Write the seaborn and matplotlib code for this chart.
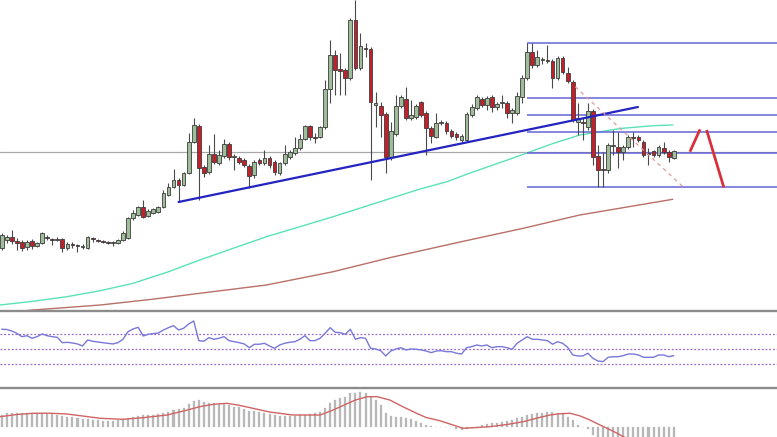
import numpy as np
import pandas as pd
import matplotlib
matplotlib.use("Agg")
import matplotlib.pyplot as plt
from matplotlib.lines import Line2D
import seaborn as sns

# ---------------- data ----------------
opens = [62,70,73,69,68,63,69,64,67,73,71,70,71,62,66,65,63,62,72,70,
         69,68,67,67,70,72,92,95,103,94,97,98,103,115,123,130,125,137,168,184,
         143,138,156,147,154,166,153,152,150,144,135,150,147,152,148,137,147,153,157,162,
         171,184,173,173,183,221,255,241,240,232,290,242,262,261,205,204,196,153,176,204,
         211,192,193,208,197,182,173,187,187,179,176,170,170,195,202,211,205,213,203,207,
         207,197,197,213,232,258,245,250,250,249,232,252,237,228,188,188,183,199,154,141,
         140,164,163,158,163,173,173,168,157,159,155,162,158,152]
highs = [77,75,80,72,70,70,71,68,78,75,72,73,72,68,68,66,66,74,73,71,
         70,69,69,71,79,93,100,104,110,101,102,104,120,127,141,132,138,177,192,186,
         145,165,176,160,171,168,156,154,152,146,150,152,160,154,150,148,165,160,173,176,
         185,185,177,184,230,270,260,257,242,292,310,277,267,263,218,208,198,188,215,215,
         223,210,206,209,199,184,197,190,189,181,178,176,198,206,215,213,214,215,208,215,
         209,202,218,235,267,267,260,253,265,251,254,254,243,230,207,192,207,201,165,158,
         167,180,178,165,175,178,175,170,162,160,165,168,160,160]
lows = [60,67,66,60,59,60,61,63,66,70,65,69,58,60,62,58,61,61,68,68,
        67,66,64,66,69,71,90,94,92,93,96,97,102,114,122,108,124,136,167,110,
        133,136,146,145,152,150,140,146,143,122,132,145,145,142,135,135,145,151,155,160,
        170,170,167,172,181,207,215,215,215,230,240,240,253,130,183,173,137,150,174,202,
        190,190,191,193,155,167,172,185,176,172,170,168,168,193,200,203,200,198,200,202,
        192,187,195,207,230,242,243,246,247,222,230,236,227,188,175,170,180,145,123,123,
        137,155,142,150,161,163,168,153,145,153,153,156,148,151]
closes = [75,73,69,67,62,68,64,67,77,72,70,71,62,66,65,64,64,73,71,69,
          68,67,68,70,77,92,97,103,93,99,101,103,117,123,130,125,137,168,185,142,
          137,156,148,155,166,153,154,148,145,134,148,147,152,145,138,147,156,158,162,171,
          184,173,172,183,221,255,240,239,232,290,242,264,261,208,207,195,153,179,204,213,
          192,195,204,195,182,174,187,188,179,174,173,174,196,203,213,205,212,203,206,208,
          197,200,214,232,258,245,253,251,249,232,252,238,229,190,192,187,199,153,140,140,
          165,165,158,163,173,172,170,155,156,155,163,158,153,159]

ma_fast_idx = [-0.34, 6.2, 12.9, 19.5, 26.0, 32.7, 39.2, 45.8, 52.4, 59.0, 65.6, 74.9,
               82.8, 88.1, 92.7, 101.2, 109.1, 114.4, 122.4, 128.9, 132.8]
ma_fast_val = [5, 8.7, 13.3, 19.3, 26.7, 37.7, 50, 61.7, 73.3, 83.3, 93.3, 108.3,
               121, 128.3, 137, 152, 166.5, 175, 181.5, 184.3, 185]
ma_slow_idx = [-0.34, 6.2, 19.5, 29.4, 39.2, 52.4, 65.6, 76.8, 90.7, 103.2, 114.4, 132.8]
ma_slow_val = [-3, 0, 5, 10.5, 16.7, 25, 38.3, 52.3, 68, 81.7, 95, 110.7]

rsi = [76.7,76.4,74.4,71.3,66.8,68.1,64.7,66.8,70.4,68.1,66.8,66.0,58.8,59.3,58.4,57.1,54.4,62.4,60.7,59.7,
       58.8,58.0,57.1,58.8,63.3,73.5,77.1,79.3,67.7,70.0,70.8,71.7,75.7,78.8,81.5,75.7,78.0,83.7,87.7,61.5,
       60.7,65.5,63.3,64.7,66.8,61.5,60.1,58.8,57.1,52.1,56.7,56.7,58.0,54.4,51.3,55.7,58.0,59.3,60.1,63.3,
       68.1,61.5,61.5,64.7,71.3,78.8,72.7,72.1,70.0,76.7,63.3,65.5,64.7,51.3,50.4,48.1,41.1,47.7,50.4,52.1,
       49.1,50.4,50.0,49.1,47.7,45.5,47.7,48.1,46.8,46.8,44.7,43.7,52.1,53.5,55.7,54.4,55.7,52.1,53.5,53.5,
       52.1,50.0,58.0,62.4,66.8,63.3,63.3,62.4,61.5,56.7,60.1,58.0,52.7,42.4,41.1,41.1,44.7,38.0,34.4,33.5,
       39.3,40.1,40.1,41.5,43.7,43.7,42.4,39.3,39.3,39.3,42.4,42.4,40.1,41.5]
rsi_levels = [70, 50, 30]

macd_hist = [12,13.7,14.3,14.3,13.7,13.7,13.7,13.7,14.3,13,12.7,12,11,10.3,9.7,8.7,7.7,7.7,7,7,
             6.3,6.3,6.3,7,7.7,8.7,10.3,11,11.7,11.7,12,12.7,13.7,15.3,17,17.7,18.7,23,26.3,27,
             25.3,24.3,23.7,23,23,22,20.3,19.7,17.7,16,16,15,13.7,12.7,12,11,11,11,11,12,
             12,13,13.7,15.3,18.7,24.3,27,28.7,29.7,34.3,34.3,34.7,34.3,30.3,27,22,14.3,11,10.3,9.7,
             8.7,7.7,6.3,4.3,2,1,0.5,0.3,0.2,-0.3,-2,-3,-2,-1,-0.5,2,3,3.7,4.3,5.3,
             6.3,7,8.7,10.3,12,13,13.7,14.3,15.3,15.3,13.7,13.7,10.3,7,2,0,-1.5,-8,-12,-14,
             -16,-17,-18,-18,-18,-17,-17,-16,-16,-15,-15,-14,-14,-13]
signal_idx = [-0.34, 3.0, 6.2, 9.5, 12.9, 16.0, 19.5, 24.0, 28.0, 32.7, 36.0, 39.2, 42.0, 44.6, 47.0,
              49.7, 53.0, 57.6, 63.0, 65.6, 68.0, 70.0, 72.3, 74.3, 76.8, 79.5, 82.1, 84.0, 86.7,
              91.3, 94.0, 96.6, 100.0, 103.2, 106.0, 108.5, 110.5, 112.5, 114.5, 116.4, 118.0,
              119.8, 121.5, 123.0, 126.0, 128.3, 132.8]
signal_val = [10.3, 12.5, 13.7, 13.8, 13.0, 11.0, 8.7, 7.7, 9.3, 12.0, 16.0, 20.3, 22.8, 23.7, 21.7,
              18.7, 15.0, 12.0, 12.0, 17.0, 22.5, 27.0, 30.3, 30.3, 27.0, 20.0, 13.7, 9.5, 6.3,
              -1.3, -0.5, 0.3, 2.5, 5.3, 9.0, 12.0, 13.3, 13.7, 11.0, 7.0, 3.0,
              -1.3, -5.5, -9.7, -15.0, -20.0, -28.0]

fib_levels = [267.3, 211.7, 195.0, 178.3, 156.7, 122.7]
fib_start = 104.0
last_price = 158
trend_idx = [35.0, 125.9]
trend_val = [108, 203]
dash_idx = [113.5, 134.8]
dash_val = [223.3, 123.3]
arrow_up_idx = [136.2, 138.2]
arrow_up_val = [158.3, 180.7]
arrow_dn_idx = [139.5, 142.9]
arrow_dn_val = [180.0, 122.7]

# ---------------- figure ----------------
sns.set_style("white")
W, H = 777, 437
fig = plt.figure(figsize=(W / 100, H / 100), dpi=100)
fig.patch.set_facecolor("white")

def px_axes(top, bottom):
    return fig.add_axes([0, (H - bottom) / H, 1, (bottom - top) / H])

ax = px_axes(0, 310)
ax_rsi = px_axes(312, 387)
ax_macd = px_axes(389, 437)

XL = (-0.336, 153.43)
for a in (ax, ax_rsi, ax_macd):
    a.set_xlim(*XL)
    a.set_facecolor("white")
    for s in a.spines.values():
        s.set_visible(False)

ax.set_ylim(0, 310)
ax_rsi.set_ylim(-0.3, 99.7)
ax_macd.set_ylim(-10, 38)

df = pd.DataFrame({"o": opens, "h": highs, "l": lows, "c": closes})
df["i"] = np.arange(len(df))
up = df["c"] >= df["o"]

# last price line
ax.axhline(last_price, color="#a8a8a8", lw=0.9, zorder=1)

# moving averages
sns.lineplot(x=ma_fast_idx, y=ma_fast_val, ax=ax, color="#5ae2b8", lw=1.0, sort=False, estimator=None, zorder=2)
sns.lineplot(x=ma_slow_idx, y=ma_slow_val, ax=ax, color="#b87068", lw=1.0, sort=False, estimator=None, zorder=2)

# fib lines
for lv in fib_levels:
    ax.hlines(lv, fib_start, XL[1], color="#6464d6", lw=1.1, zorder=2)

# candles
ax.vlines(df["i"], df["l"], df["h"], color="#4a4a4a", lw=0.8, zorder=3)
body_bottom = np.minimum(df["o"], df["c"])
body_h = np.maximum(np.abs(df["c"] - df["o"]), 0.9)
ax.bar(df["i"][up], body_h[up], bottom=body_bottom[up], width=0.74,
       color="#9fbd98", edgecolor="#3c3c3c", linewidth=0.6, zorder=4)
ax.bar(df["i"][~up], body_h[~up], bottom=body_bottom[~up], width=0.74,
       color="#c4202c", edgecolor="#3c3c3c", linewidth=0.6, zorder=4)

# trend line and annotations
sns.lineplot(x=trend_idx, y=trend_val, ax=ax, color="#2424c0", lw=1.6, estimator=None, zorder=5)
ax.plot(dash_idx, dash_val, color="#e09a9a", lw=0.9, ls=(0, (3, 3)), zorder=5)
ax.plot(arrow_up_idx, arrow_up_val, color="#d8303c", lw=2.0, solid_capstyle="butt", zorder=5)
ax.plot(arrow_dn_idx, arrow_dn_val, color="#d8303c", lw=2.0, solid_capstyle="butt", zorder=5)

# RSI
for lv in rsi_levels:
    ax_rsi.axhline(lv, color="#9a6ad0", lw=0.9, ls=(0, (1.5, 1.5)), zorder=1)
sns.lineplot(x=np.arange(len(rsi)), y=rsi, ax=ax_rsi, color="#7878d8", lw=1.0, estimator=None, zorder=2)

# MACD
ax_macd.bar(np.arange(len(macd_hist)), macd_hist, width=0.4, color="#b8b8b8",
            edgecolor="#b8b8b8", linewidth=0.2, zorder=1)
sns.lineplot(x=signal_idx, y=signal_val, ax=ax_macd, color="#d06464", lw=1.0, estimator=None, zorder=2)

for a in (ax, ax_rsi, ax_macd):
    a.set_xticks([])
    a.set_yticks([])
    a.set_xlabel("")
    a.set_ylabel("")
    if a.get_legend():
        a.get_legend().remove()

# panel separators
for ypx in (310.8, 387.8):
    fig.add_artist(Line2D([0, 1], [(H - ypx) / H] * 2, transform=fig.transFigure,
                          color="#8c8c8c", lw=1.7))

fig.savefig("out.png", dpi=100, facecolor="white")
